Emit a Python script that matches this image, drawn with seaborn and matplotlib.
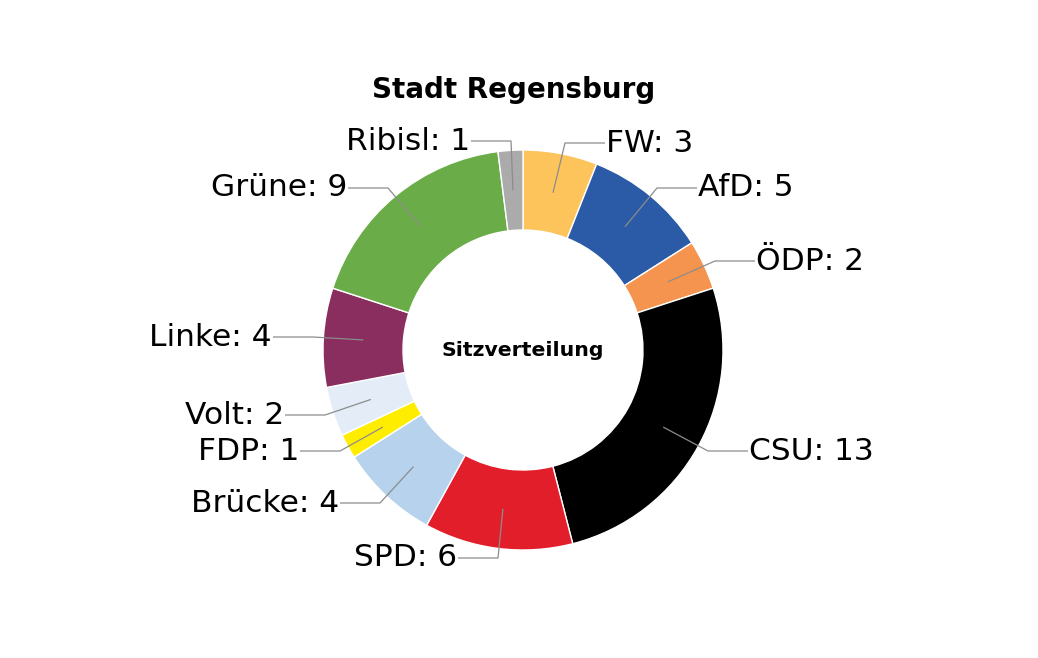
import numpy as np
import matplotlib
matplotlib.use("Agg")
import matplotlib.pyplot as plt
import seaborn as sns

# ==========================================
# Data: seat distribution, clockwise from 12 o'clock
# ==========================================
parties = ["FW", "AfD", "ÖDP", "CSU", "SPD", "Brücke", "FDP", "Volt", "Linke", "Grüne", "Ribisl"]
seats = [3, 5, 2, 13, 6, 4, 1, 2, 4, 9, 1]
colors = ["#FDC45B", "#2B5BA7", "#F5944F", "#000000", "#E31E2B", "#B6D2EC",
          "#FFED00", "#E4EDF7", "#8A2D5F", "#6AAD48", "#ABABAB"]

# label layout (units of outer radius): label height and leader elbow x
label_y = [1.035, 0.81, 0.445, -0.505, -1.04, -0.765, -0.505, -0.325, 0.065, 0.81, 1.045]
elbow_x = [0.21, 0.67, 0.96, 0.925, -0.125, -0.715, -0.915, -0.99, -1.05, -0.675, -0.06]

sns.set_theme(style="white")
plt.rcParams['font.family'] = ['DejaVu Sans']
plt.rcParams['text.color'] = 'black'

fig = plt.figure(figsize=(10.38, 6.58), dpi=100)
ax = fig.add_axes([0, 0, 1, 1])

wedges, _ = ax.pie(seats, colors=colors, startangle=90, counterclock=False,
                   radius=1.0, wedgeprops=dict(width=0.4, edgecolor="white", linewidth=1))

# pixel layout: centre at (523, 350), radius 200 px
ax.set_xlim(-523 / 200, (1038 - 523) / 200)
ax.set_ylim(-(658 - 350) / 200, 350 / 200)
ax.set_aspect("equal")
ax.axis("off")

# leader lines + labels
for w, name, n, ly, ex in zip(wedges, parties, seats, label_y, elbow_x):
    ang = np.deg2rad((w.theta1 + w.theta2) / 2)
    x0, y0 = 0.8 * np.cos(ang), 0.8 * np.sin(ang)
    side = 1 if ex > 0 else -1
    tx = ex + side * 0.2
    ax.plot([x0, ex, tx], [y0, ly, ly], color="#8C8C8C", lw=0.9, solid_capstyle="butt")
    ax.text(tx + side * 0.005, ly, f"{name}: {n}", fontsize=22.5,
            ha="left" if side > 0 else "right", va="center")

ax.text(0.0, 0.0, "Sitzverteilung", fontsize=14.7, fontweight="bold",
        ha="center", va="center")
ax.text(-0.0475, (350 - 90) / 200, "Stadt Regensburg", fontsize=20, fontweight="bold",
        ha="center", va="center")

plt.savefig("out.png", dpi=100)
